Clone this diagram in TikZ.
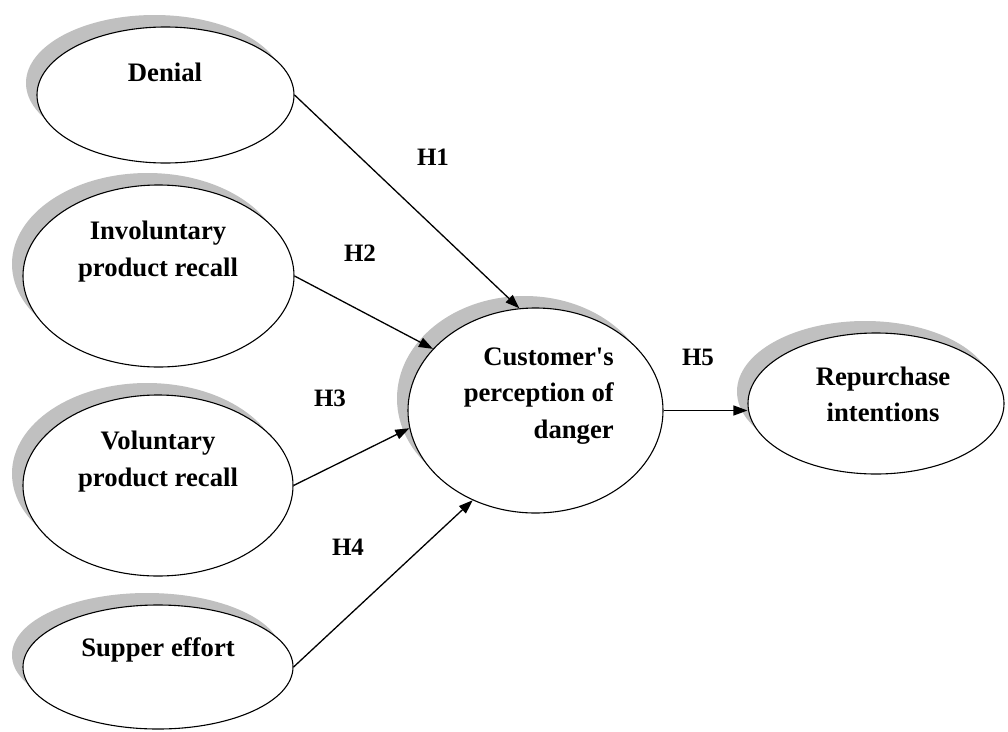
\documentclass[tikz,border=0pt]{standalone}
\usepackage{fontspec}
\setmainfont{Liberation Serif}[Ligatures=TeXOff]
\usetikzlibrary{shapes.geometric,arrows.meta,shadows}
\definecolor{shadowgray}{HTML}{C0C0C0}
\begin{document}
\begin{tikzpicture}[x=1pt,y=-1pt,
  oval/.style={ellipse, draw=black, line width=1.1pt, fill=white, inner sep=0pt,
    drop shadow={shadow xshift=-11pt, shadow yshift=12pt, fill=shadowgray, opacity=1}},
  txt/.style={font=\bfseries\fontsize{26.7}{36.5}\selectfont, inner sep=0pt, align=center},
  hyp/.style={font=\bfseries\fontsize{25}{30}\selectfont, inner sep=0pt},
  link/.style={line width=1.3pt, -{Triangle[length=14pt,width=10pt]}}]
\useasboundingbox (0,0) rectangle (1008,731);
\fill[white] (0,0) rectangle (1008,731);

% ellipses
\node[oval, minimum width=257pt, minimum height=136pt] (denial) at (165.5,95) {};
\node[oval, minimum width=271pt, minimum height=182pt] (invol) at (158.5,276) {};
\node[oval, minimum width=270pt, minimum height=181pt] (vol) at (158,485.5) {};
\node[oval, minimum width=270pt, minimum height=124pt] (supper) at (158,667) {};
\node[oval, minimum width=255pt, minimum height=205pt] (cust) at (535.5,410.5) {};
\node[oval, minimum width=256pt, minimum height=141pt] (repur) at (876,403.5) {};

% texts
\node[txt] (denialtxt) at (165,72) {Denial};
\node[txt] (involtxt) at (158,251.5) {Involuntary\\product recall};
\node[txt] (voltxt) at (158,461.5) {Voluntary\\product recall};
\node[txt] (suppertxt) at (158,650) {Supper effort};
\node[txt, align=right, anchor=east] (custtxt) at (614,396) {Customer's\\perception of\\danger};
\node[txt] (repurtxt) at (883,394.5) {Repurchase\\intentions};

% connectors
\draw[link] (denial.east) -- (cust.99);
\draw[link] (invol.east) -- (cust.149);
\draw[link] (vol.east) -- (cust.188);
\draw[link] (supper.east) -- (cust.235);
\draw[link] (cust.east) -- (cust.east -| repur.west);

% hypothesis labels
\node[hyp] (h1) at (433,157) {H1};
\node[hyp] (h2) at (360,253) {H2};
\node[hyp] (h3) at (330,398) {H3};
\node[hyp] (h4) at (348,547) {H4};
\node[hyp] (h5) at (698,357) {H5};
\end{tikzpicture}
\end{document}
